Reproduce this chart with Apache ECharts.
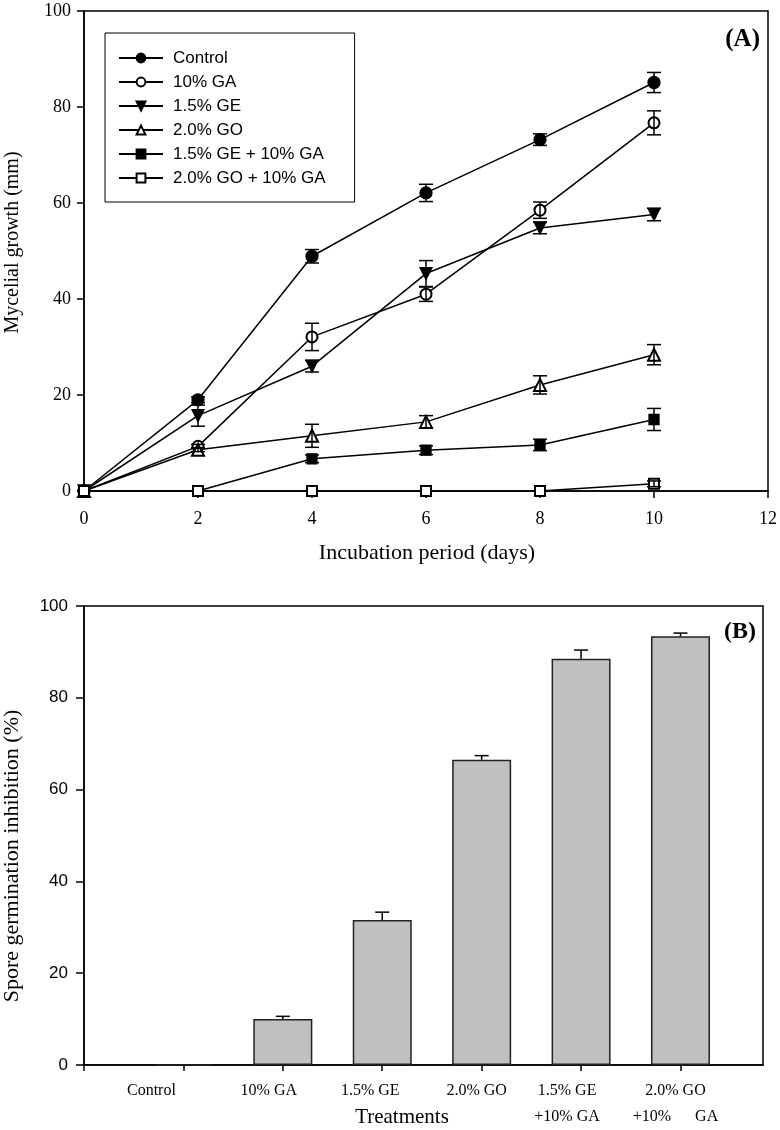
<!DOCTYPE html>
<html>
<head>
<meta charset="utf-8">
<script src="https://cdn.jsdelivr.net/npm/echarts@6/dist/echarts.min.js"></script>
<style>
html,body{margin:0;padding:0;background:#fff;}
#chart{width:780px;height:1130px;}
</style>
</head>
<body>
<div id="chart"></div>
<script>
// ---- Panel A data ----
const days = [0, 2, 4, 6, 8, 10];
const xTicksA = [0, 2, 4, 6, 8, 10, 12];
const seriesNames = ['Control', '10% GA', '1.5% GE', '2.0% GO', '1.5% GE + 10% GA', '2.0% GO + 10% GA'];
const control    = [0, 19.0, 48.9, 62.1, 73.2, 85.1];
const controlErr = [0, 0.6, 1.4, 1.8, 1.2, 2.1];
const ga10       = [0, 9.3, 32.1, 41.0, 58.5, 76.7];
const ga10Err    = [0, 0.4, 2.85, 1.5, 1.7, 2.5];
const ge15       = [0, 15.7, 26.0, 45.3, 54.8, 57.6];
const ge15Err    = [0, 2.2, 1.2, 2.7, 1.2, 1.3];
const go20       = [0, 8.6, 11.5, 14.4, 22.1, 28.4];
const go20Err    = [0, 0.4, 2.4, 1.3, 1.9, 2.1];
const geGa       = [0, 0, 6.7, 8.5, 9.6, 14.9];
const geGaErr    = [0, 0, 0.8, 0.9, 1.2, 2.3];
const goGa       = [0, 0, 0, 0, 0, 1.5];
const goGaErr    = [0, 0, 0, 0, 0, 0.6];

// ---- Panel B data ----
const treatments = ['Control', '10% GA', '1.5% GE', '2.0% GO', '1.5% GE\n+10% GA', '2.0% GO\n+10%      GA'];
const inhibition    = [0, 10.0, 31.6, 66.5, 88.5, 93.4];
const inhibitionErr = [0, 0.6, 1.7, 0.9, 1.9, 0.7];

// label layout (pixel shift of each tick label to the left, styling only)
const labelShiftPx = [32, 14, 12, 5, 14, 5];

const SERIF = '"Liberation Serif", "Times New Roman", serif';
const SANS = '"Liberation Sans", Arial, sans-serif';

const valuesA = [control, ga10, ge15, go20, geGa, goGa];
const errsA = [controlErr, ga10Err, ge15Err, go20Err, geGaErr, goGaErr];
const symbols = ['circle', 'emptyCircle', 'triangle', 'emptyTriangle', 'rect', 'emptyRect'];
const symbolRot = [0, 0, 180, 0, 0, 0];
const symbolSizes = [12, 11, 12, 12, 10, 10];

const series = [];
valuesA.forEach((vals, k) => {
  series.push({
    name: seriesNames[k],
    type: 'line',
    xAxisIndex: 0, yAxisIndex: 0,
    data: days.map((d, i) => [d, vals[i]]),
    symbol: symbols[k],
    symbolRotate: symbolRot[k],
    symbolSize: symbolSizes[k],
    showAllSymbol: true,
    lineStyle: {color: '#000', width: 1.5},
    itemStyle: {color: '#000', borderColor: '#000', borderWidth: 1.3},
    z: 3
  });
});
valuesA.forEach((vals, k) => {
  series.push({
    name: 'errA' + k,
    type: 'custom',
    xAxisIndex: 0, yAxisIndex: 0,
    data: days.map((d, i) => [d, vals[i], errsA[k][i]]),
    z: 4,
    renderItem: function (params, api) {
      const x = api.value(0), y = api.value(1), e = api.value(2);
      if (!e) return null;
      const t = api.coord([x, y + e]);
      const b = api.coord([x, y - e]);
      const w = 7;
      const st = {stroke: '#000', lineWidth: 1.5};
      return {type: 'group', children: [
        {type: 'line', shape: {x1: t[0], y1: t[1], x2: b[0], y2: b[1]}, style: st},
        {type: 'line', shape: {x1: t[0] - w, y1: t[1], x2: t[0] + w, y2: t[1]}, style: st},
        {type: 'line', shape: {x1: b[0] - w, y1: b[1], x2: b[0] + w, y2: b[1]}, style: st}
      ]};
    }
  });
});

const treatPos = treatments.map((_, i) => i + 1);
series.push({
  name: 'inhibition',
  type: 'bar',
  xAxisIndex: 1, yAxisIndex: 1,
  data: treatPos.map((p, i) => [p, inhibition[i]]),
  barWidth: 59,
  itemStyle: {color: '#c0c0c0', borderColor: '#222', borderWidth: 1.5},
  z: 2
});
series.push({
  name: 'errB',
  type: 'custom',
  xAxisIndex: 1, yAxisIndex: 1,
  data: treatPos.map((p, i) => [p, inhibition[i], inhibitionErr[i]]),
  z: 3,
  renderItem: function (params, api) {
    const x = api.value(0), y = api.value(1), e = api.value(2);
    if (!e) return null;
    const t = api.coord([x, y + e]);
    const b = api.coord([x, y]);
    const w = 7;
    const st = {stroke: '#000', lineWidth: 1.5};
    return {type: 'group', children: [
      {type: 'line', shape: {x1: t[0], y1: t[1], x2: b[0], y2: b[1]}, style: st},
      {type: 'line', shape: {x1: t[0] - w, y1: t[1], x2: t[0] + w, y2: t[1]}, style: st}
    ]};
  }
});

const richB = {};
labelShiftPx.forEach((s, i) => {
  richB['s' + i] = {fontFamily: SERIF, fontSize: 16, color: '#000', lineHeight: 26, padding: [0, 2 * s, 0, 0]};
});

const axisLine = {show: true, lineStyle: {color: '#000', width: 1.5}};

const option = {
  animation: false,
  backgroundColor: '#fff',
  grid: [
    {left: 84, top: 11, width: 686, height: 480, show: true, borderColor: '#000', borderWidth: 1.5, backgroundColor: 'transparent'},
    {left: 84, top: 606, width: 679, height: 460, show: true, borderColor: '#000', borderWidth: 1.5, backgroundColor: 'transparent'}
  ],
  legend: {
    data: seriesNames,
    orient: 'vertical',
    left: 105, top: 33,
    itemWidth: 44, itemHeight: 11,
    itemGap: 6,
    padding: [16, 29, 15, 13],
    borderColor: '#000', borderWidth: 1,
    backgroundColor: '#fff',
    selectedMode: false,
    textStyle: {fontFamily: SANS, fontSize: 17, color: '#000', lineHeight: 18, padding: [0, 0, 0, 5]}
  },
  xAxis: [
    {
      type: 'value', gridIndex: 0, min: 0, max: 12, interval: 2,
      axisLine: axisLine, splitLine: {show: false},
      axisTick: {show: true, length: 7, lineStyle: {color: '#000', width: 1.5}},
      axisLabel: {fontFamily: SERIF, fontSize: 18, color: '#000', margin: 19}
    },
    {
      type: 'value', gridIndex: 1, min: 0, max: 6.83,
      axisLine: axisLine, splitLine: {show: false},
      axisTick: {show: true, length: 6, customValues: [0].concat(treatPos), lineStyle: {color: '#000', width: 1.5}},
      axisLabel: {
        customValues: treatPos,
        hideOverlap: false,
        showMinLabel: true, showMaxLabel: true,
        fontFamily: SERIF, fontSize: 16, color: '#000', margin: 13, lineHeight: 26,
        rich: richB,
        formatter: function (v) {
          const i = Math.round(v) - 1;
          const t = treatments[i];
          if (t === undefined) return '';
          return t.split('\n').map(l => '{s' + i + '|' + l + '}').join('\n');
        }
      }
    }
  ],
  yAxis: [
    {
      type: 'value', gridIndex: 0, min: 0, max: 100, interval: 20,
      axisLine: axisLine, splitLine: {show: false},
      axisTick: {show: true, length: 7, lineStyle: {color: '#000', width: 1.5}},
      axisLabel: {fontFamily: SERIF, fontSize: 18, color: '#000', margin: 13}
    },
    {
      type: 'value', gridIndex: 1, min: 0, max: 100, interval: 20,
      axisLine: axisLine, splitLine: {show: false},
      axisTick: {show: true, length: 8, lineStyle: {color: '#000', width: 1.5}},
      axisLabel: {fontFamily: SANS, fontSize: 17, color: '#000', margin: 16}
    }
  ],
  graphic: [
    {type: 'text', x: 12.5, y: 242.5, rotation: Math.PI / 2,
     style: {text: 'Mycelial growth (mm)', font: '20px ' + SERIF, fill: '#000', textAlign: 'center', textVerticalAlign: 'middle'}},
    {type: 'text', x: 427, y: 553,
     style: {text: 'Incubation period (days)', font: '22px ' + SERIF, fill: '#000', textAlign: 'center', textVerticalAlign: 'middle'}},
    {type: 'text', x: 760, y: 40,
     style: {text: '(A)', font: 'bold 25px ' + SERIF, fill: '#000', textAlign: 'right', textVerticalAlign: 'middle'}},
    {type: 'text', x: 12.5, y: 856, rotation: Math.PI / 2,
     style: {text: 'Spore germination inhibition (%)', font: '22px ' + SERIF, fill: '#000', textAlign: 'center', textVerticalAlign: 'middle'}},
    {type: 'text', x: 402, y: 1117,
     style: {text: 'Treatments', font: '21px ' + SERIF, fill: '#000', textAlign: 'center', textVerticalAlign: 'middle'}},
    {type: 'text', x: 756, y: 632,
     style: {text: '(B)', font: 'bold 24px ' + SERIF, fill: '#000', textAlign: 'right', textVerticalAlign: 'middle'}}
  ],
  series: series
};

const chart = echarts.init(document.getElementById('chart'), null, {renderer: 'canvas'});
chart.setOption(option);
</script>
</body>
</html>
